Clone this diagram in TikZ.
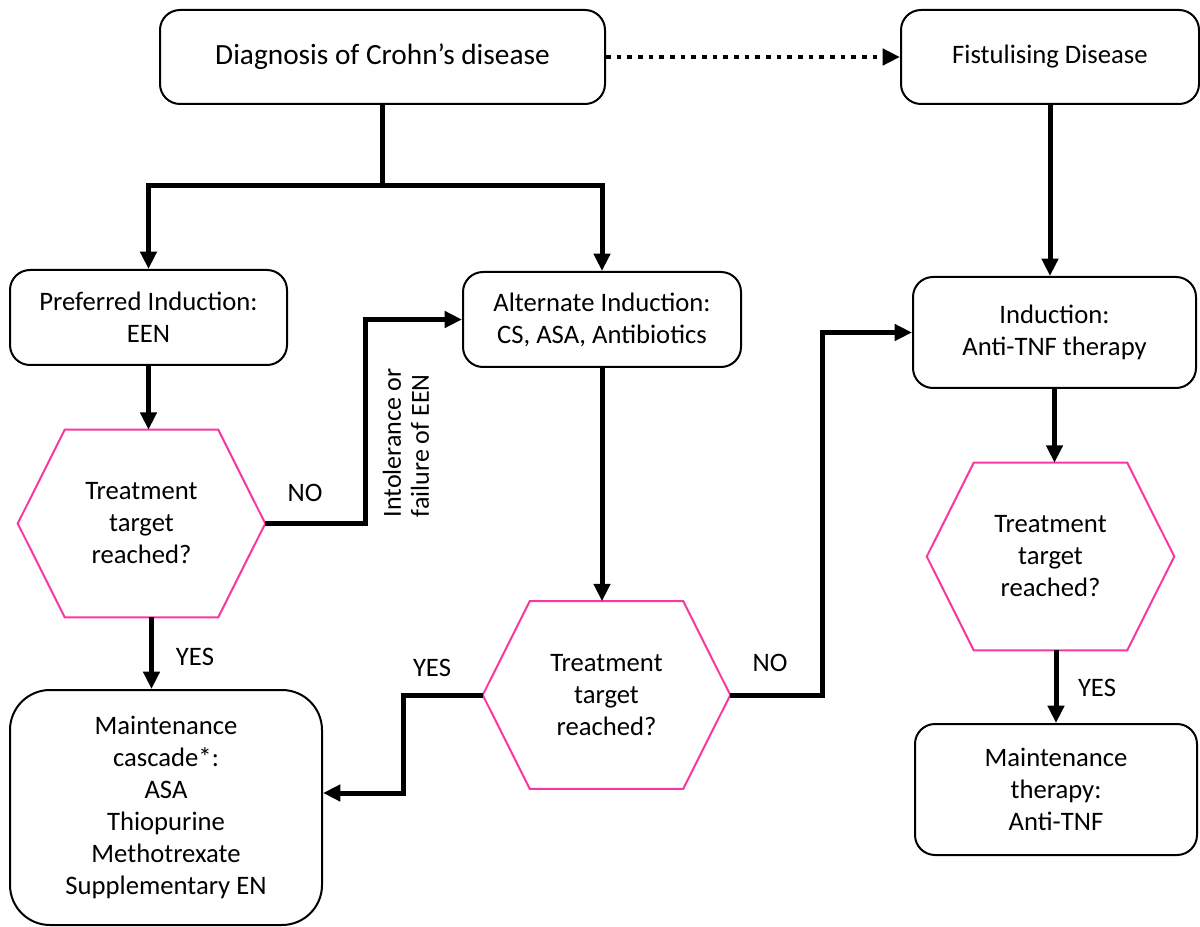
\documentclass[tikz,border=0pt]{standalone}
\usepackage{fontspec}
\setmainfont{Carlito}
\usetikzlibrary{arrows.meta}
\definecolor{hexpink}{RGB}{250,55,160}

\begin{document}
\begin{tikzpicture}[x=0.75pt, y=-0.75pt,
  box/.style={draw, line width=1.5pt, rounded corners=15pt, align=center, inner sep=0pt, font=\fontsize{20}{24}\selectfont},
  hexa/.style={align=center, inner sep=0pt, minimum width=185.25pt, minimum height=140.25pt, font=\fontsize{20}{24}\selectfont},
  line/.style={line width=3.75pt},
  arr/.style={line, -{Triangle[length=13pt, width=12pt]}},
  lbl/.style={font=\fontsize{20}{24}\selectfont}]
\useasboundingbox (0,0) rectangle (1200,927);

\node[box, minimum width=333.75pt, minimum height=70.5pt, font=\fontsize{22}{26}\selectfont] (diag) at (382.5,57) {Diagnosis of Crohn's disease};
\node[box, minimum width=223.5pt, minimum height=70.5pt] (fist) at (1050,57) {Fistulising Disease};
\node[box, minimum width=207.75pt, minimum height=71.25pt] (pref) at (148.5,317.5) {Preferred Induction:\\EEN};
\node[box, minimum width=208.5pt, minimum height=71.25pt] (alt) at (602,319.5) {Alternate Induction:\\CS, ASA, Antibiotics};
\node[box, minimum width=212.25pt, minimum height=83.25pt] (ind) at (1054.5,332.5) {Induction:\\Anti-TNF therapy};
\node[box, rounded corners=30pt, minimum width=234pt, minimum height=176.25pt] (maint) at (166,807.5) {Maintenance\\cascade*:\\ASA\\Thiopurine\\Methotrexate\\Supplementary EN};
\node[box, minimum width=211.5pt, minimum height=98.25pt] (mt) at (1056,789.5) {Maintenance\\therapy:\\Anti-TNF};

\node[hexa] (hex1) at (141.5,523.5) {Treatment\\target\\reached?};
\node[hexa] (hex2) at (606.5,695) {Treatment\\target\\reached?};
\node[hexa] (hex3) at (1050.5,556.5) {Treatment\\target\\reached?};
\foreach \h in {hex1,hex2,hex3}
  \draw[hexpink, line width=1.5pt] (\h.west) -- ([xshift=35.25pt]\h.north west) -- ([xshift=-35.25pt]\h.north east)
    -- (\h.east) -- ([xshift=-35.25pt]\h.south east) -- ([xshift=35.25pt]\h.south west) -- cycle;

\coordinate (split) at (382.5,186);
\coordinate (j1) at (365,0);
\coordinate (j2) at (403,793);
\coordinate (j3) at (822,0);

\draw[line] (diag.south) -- (split);
\draw[arr, {Triangle[length=13pt, width=12pt]}-{Triangle[length=13pt, width=12pt]}] (pref.north) |- (split) -| (alt.north);
\draw[arr, line width=3.4pt, dash pattern=on 3.4pt off 4.6pt] (diag.east) -- (fist.west);
\draw[arr] (fist.south) -- (fist.south |- ind.north);
\draw[arr] (pref.south) -- (pref.south |- hex1.north);
\draw[arr] ([xshift=7.5pt]hex1.south) -- ([xshift=7.5pt]hex1.south |- maint.north);
\draw[arr] (hex1.east) -- (hex1.east -| j1) |- (alt.west);
\draw[arr] (alt.south) -- (alt.south |- hex2.north);
\draw[arr] (hex2.west) -| (j2) -- (j2 -| maint.east);
\draw[arr] (hex2.east) -- (hex2.east -| j3) |- (ind.west);
\draw[arr] (ind.south) -- (ind.south |- hex3.north);
\draw[arr] (mt.north |- hex3.south) -- (mt.north);

\node[lbl] (no1) at (305,493) {NO};
\node[lbl] (yes1) at (195,657) {YES};
\node[lbl] (yes2) at (432,668) {YES};
\node[lbl] (no2) at (770,663) {NO};
\node[lbl] (yes3) at (1097,688) {YES};
\node[rotate=90, align=left, font=\fontsize{19.5}{21}\selectfont] (why) at (406,443) {Intolerance or\\failure of EEN};
\end{tikzpicture}
\end{document}
